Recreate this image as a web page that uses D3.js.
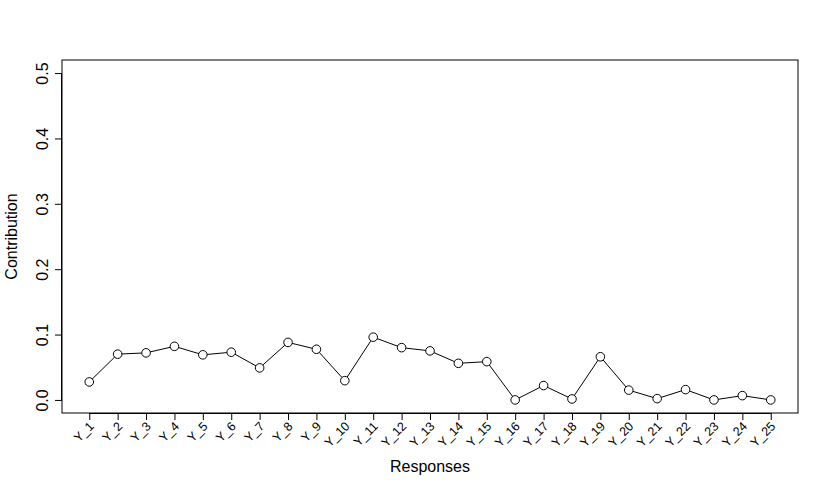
<!DOCTYPE html>
<html><head><meta charset="utf-8">
<script src="https://cdn.jsdelivr.net/npm/d3@7/dist/d3.min.js"></script>
<style>body{margin:0;background:#fff}text{font-family:"Liberation Sans",Arial,Helvetica,sans-serif;fill:#000}</style>
</head><body><svg id="c" width="830" height="491"></svg>
<script>
const categories = ["Y_1","Y_2","Y_3","Y_4","Y_5","Y_6","Y_7","Y_8","Y_9","Y_10","Y_11","Y_12","Y_13","Y_14","Y_15","Y_16","Y_17","Y_18","Y_19","Y_20","Y_21","Y_22","Y_23","Y_24","Y_25"];
const values = [0.0275,0.070,0.072,0.082,0.069,0.073,0.049,0.088,0.0775,0.0295,0.096,0.080,0.075,0.056,0.0586,0.0,0.022,0.0015,0.066,0.015,0.002,0.0158,0.0,0.0066,0.0];
const yTicks = [0.0,0.1,0.2,0.3,0.4,0.5];

const svg = d3.select("#c");
const L=62,R=798,T=60,B=413;
const x = d3.scaleLinear().domain([1-0.96,25+0.96]).range([L,R]);
const y = d3.scaleLinear().domain([-0.02,0.52]).range([B,T]);

svg.append("rect").attr("x",L).attr("y",T).attr("width",R-L).attr("height",B-T)
  .attr("fill","none").attr("stroke","#000").attr("stroke-width",1);

// y axis
const ya = svg.append("g").attr("transform",`translate(${L},0)`)
  .call(d3.axisLeft(y).tickValues(yTicks).tickSize(7).tickSizeOuter(0).tickFormat(d3.format(".1f")));
ya.select(".domain").attr("d",`M-0.5,${y(0)}V${y(0.5)}`).attr("stroke","#000");
ya.selectAll("text").attr("font-size",16)
  .attr("x",0).attr("y",0).attr("dy",null).attr("text-anchor","middle")
  .attr("transform","translate(-14,0) rotate(-90)");

// x axis
const xa = svg.append("g").attr("transform",`translate(0,${B})`)
  .call(d3.axisBottom(x).tickValues(d3.range(1,26)).tickSize(7).tickSizeOuter(0).tickFormat(i=>categories[i-1]));
xa.select(".domain").attr("d",`M${x(1)},0.5H${x(25)}`).attr("stroke","#000");
xa.selectAll("text").attr("font-size",12.5).attr("text-anchor","end")
  .attr("y",0).attr("dy",null).attr("transform","translate(5,14) rotate(-45)");
svg.selectAll(".tick line").attr("stroke","#000");

// line
svg.append("path").datum(values)
  .attr("d",d3.line().x((d,i)=>x(i+1)).y(d=>y(d)))
  .attr("fill","none").attr("stroke","#000").attr("stroke-width",1);
svg.selectAll("circle.pt").data(values).enter().append("circle").attr("class","pt")
  .attr("cx",(d,i)=>x(i+1)).attr("cy",d=>y(d)).attr("r",4.3)
  .attr("fill","#fff").attr("stroke","#000").attr("stroke-width",1);

svg.append("text").attr("x",(L+R)/2).attr("y",472).attr("text-anchor","middle")
  .attr("font-size",16).text("Responses");
svg.append("text").attr("transform",`translate(17,${(T+B)/2}) rotate(-90)`)
  .attr("text-anchor","middle").attr("font-size",16).text("Contribution");
</script></body></html>
